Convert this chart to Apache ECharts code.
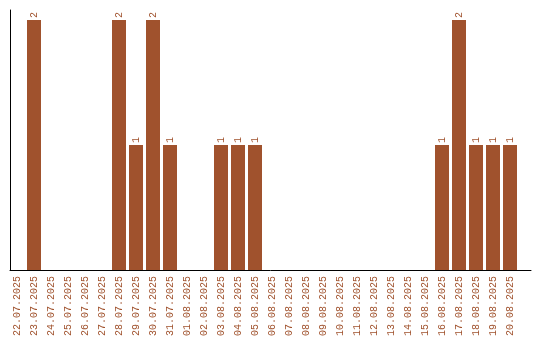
<!DOCTYPE html>
<html><head><meta charset="utf-8">
<script src="https://cdn.jsdelivr.net/npm/echarts@6/dist/echarts.min.js"></script>
<style>html,body{margin:0;padding:0;background:#fff}#c{width:540px;height:340px}</style>
</head><body><div id="c"></div>
<script>
var categories = ['22.07.2025','23.07.2025','24.07.2025','25.07.2025','26.07.2025','27.07.2025','28.07.2025','29.07.2025','30.07.2025','31.07.2025','01.08.2025','02.08.2025','03.08.2025','04.08.2025','05.08.2025','06.08.2025','07.08.2025','08.08.2025','09.08.2025','10.08.2025','11.08.2025','12.08.2025','13.08.2025','14.08.2025','15.08.2025','16.08.2025','17.08.2025','18.08.2025','19.08.2025','20.08.2025'];
var counts = [0,2,0,0,0,0,2,1,2,1,0,0,1,1,1,0,0,0,0,0,0,0,0,0,0,1,2,1,1,1];
var color = '#A0522D';
var chart = echarts.init(document.getElementById('c'));
chart.setOption({
  animation: false,
  grid: [
    {left: 8.5, width: 510, top: 10, bottom: 70},
    {left: 10, right: 9, top: 10, bottom: 70}
  ],
  xAxis: [
    {type: 'category', data: categories, gridIndex: 0,
     axisLine: {show: false}, axisTick: {show: false},
     axisLabel: {rotate: 90, interval: 0, margin: 6, color: color,
       fontFamily: 'Liberation Mono', fontSize: 10}},
    {type: 'value', gridIndex: 1, min: 0, max: 1,
     axisLine: {show: true, onZero: false, lineStyle: {color: '#000', width: 1}},
     axisTick: {show: false}, axisLabel: {show: false}, splitLine: {show: false}}
  ],
  yAxis: [
    {type: 'value', gridIndex: 0, min: 0, max: 2.08,
     axisLine: {show: false}, axisTick: {show: false}, axisLabel: {show: false}, splitLine: {show: false}},
    {type: 'value', gridIndex: 1, min: 0, max: 1,
     axisLine: {show: true, onZero: false, lineStyle: {color: '#000', width: 1}},
     axisTick: {show: false}, axisLabel: {show: false}, splitLine: {show: false}}
  ],
  series: [{
    type: 'bar', data: counts, barWidth: 14, xAxisIndex: 0, yAxisIndex: 0,
    itemStyle: {color: color},
    label: {show: true, position: 'top', rotate: 90, align: 'left', verticalAlign: 'middle',
      distance: 2, color: color, fontFamily: 'Liberation Mono', fontSize: 10,
      formatter: function(p){ return p.value > 0 ? String(p.value) : ''; }}
  }]
});
</script></body></html>
